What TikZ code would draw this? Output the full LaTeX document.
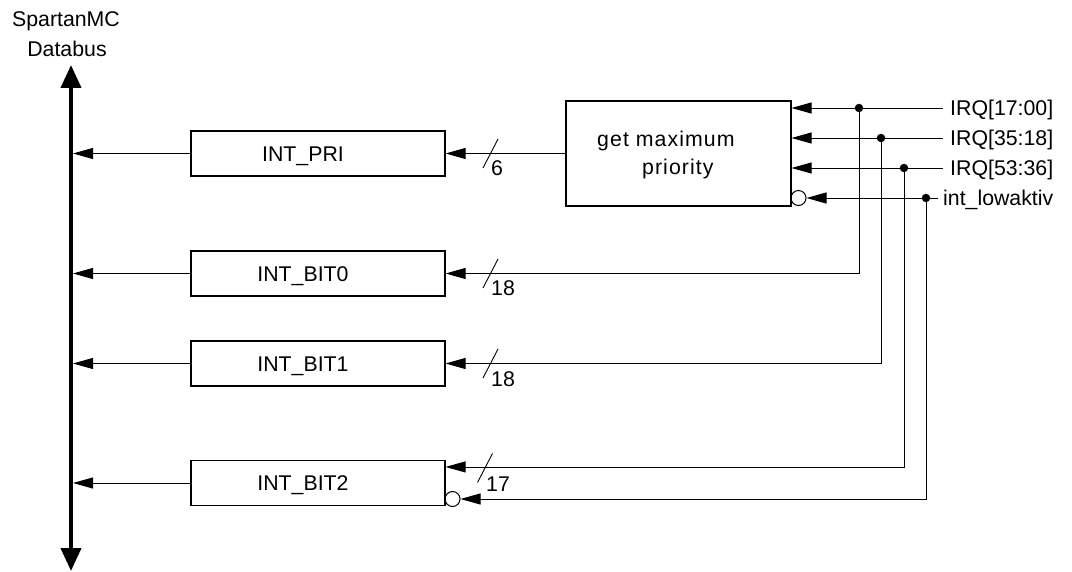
\documentclass[tikz,border=0pt]{standalone}
\usepackage{fontspec}
\setmainfont{Liberation Sans}
\usetikzlibrary{arrows.meta}
\begin{document}
\begin{tikzpicture}[x=1pt,y=-1pt,
  every node/.style={font=\fontsize{21.3}{28}\selectfont},
  conn/.style={line width=0.9pt},
  tip/.style={-{Triangle[length=20pt,width=11pt]}},
  capcenter/.style={text height=15.2pt, text depth=0pt},
  regbox/.style={draw, line width=1.1pt, minimum height=45pt, text width=254pt,
    inner xsep=0pt, align=center, capcenter},
  gmpbox/.style={draw, line width=1.1pt, minimum width=225pt, minimum height=105pt, inner sep=0pt},
  bubble/.style={draw, circle, line width=1pt, minimum size=15pt, inner sep=0pt},
  dot/.style={circle, fill, inner sep=0pt, minimum size=8.5pt},
  inlbl/.style={anchor=west, capcenter, inner ysep=0pt},
  numlbl/.style={anchor=base west, inner sep=0pt},
]
\useasboundingbox (0,0) rectangle (1072,572);

% Databus
\node[capcenter] (spartan) at (66,19) {SpartanMC};
\node[capcenter] (databus) at (67,49) {Databus};
\coordinate (bustop) at (71,65);
\coordinate (busbot) at (71,571);
\coordinate (busedge) at (73,0);
\draw[line width=4pt, {Triangle[length=23pt,width=20pt]}-{Triangle[length=23pt,width=20pt]}] (busbot) -- (bustop);

% registers
\node[regbox] (pri)  at (318,153.5) {\hspace*{-30pt}INT\_PRI};
\node[regbox] (bit0) at (318,273.5) {\hspace*{-30pt}INT\_BIT0};
\node[regbox] (bit1) at (318,363.5) {\hspace*{-30pt}INT\_BIT1};
\node[regbox] (bit2) at (318,483)   {\hspace*{-30pt}INT\_BIT2};

% get maximum priority
\node[gmpbox] (gmp) at (678.5,153.5) {};
\node[anchor=west, align=left, inner sep=0pt] (gmptxt) at (597,155)
  {\addfontfeature{LetterSpace=5}get maximum\\\hspace*{45pt}\addfontfeature{LetterSpace=5}priority};
\node[bubble] (bub1) at (798.5,198) {};
\node[bubble] (bub2) at (452.5,499) {};

% inputs
\node[inlbl, inner xsep=7pt] (irq0) at (943,108) {IRQ[17:00]};
\node[inlbl, inner xsep=7pt] (irq1) at (943,138) {IRQ[35:18]};
\node[inlbl, inner xsep=7pt] (irq2) at (943,168) {IRQ[53:36]};
\node[inlbl, inner xsep=5pt] (lowak) at (938,198) {int\_lowaktiv};

\node[dot] (j1) at (859,108) {};
\node[dot] (j2) at (881,138) {};
\node[dot] (j3) at (904,168) {};
\node[dot] (j4) at (926,198) {};

\draw[conn,tip] (irq0.west) -- (gmp.east |- irq0.west);
\draw[conn,tip] (irq1.west) -- (gmp.east |- irq1.west);
\draw[conn,tip] (irq2.west) -- (gmp.east |- irq2.west);
\draw[conn,tip] (lowak.west) -- (bub1.east);

\coordinate (b2a) at ([yshift=-7pt]bit2.north east);
\draw[conn,tip] (j1) |- (bit0.east);
\draw[conn,tip] (j2) |- (bit1.east);
\draw[conn,tip] (j3) |- (b2a);
\draw[conn,tip] (j4) |- (bub2.east);

\draw[conn,tip] (gmp.west) -- (pri.east);

% to databus
\draw[conn,tip] (pri.west)  -- (busedge |- pri.west);
\draw[conn,tip] (bit0.west) -- (busedge |- bit0.west);
\draw[conn,tip] (bit1.west) -- (busedge |- bit1.west);
\draw[conn,tip] (bit2.west) -- (busedge |- bit2.west);

% bus width marks
\draw[conn] (490.5,153.5) ++(-7.5,14.5) -- ++(15,-29);
\draw[conn] (490.5,273.5) ++(-7.5,14.5) -- ++(15,-29);
\draw[conn] (490.5,363.5) ++(-7.5,14.5) -- ++(15,-29);
\draw[conn] (485,468)     ++(-7.5,14.5) -- ++(15,-29);
\node[numlbl] (w6)  at (491,176) {6};
\node[numlbl] (w18a) at (491,296) {18};
\node[numlbl] (w18b) at (491,386) {18};
\node[numlbl] (w17) at (486,491) {17};
\end{tikzpicture}
\end{document}
